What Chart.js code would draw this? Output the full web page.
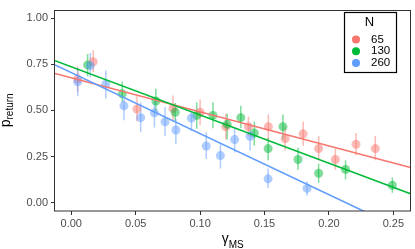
<!DOCTYPE html>
<html>
<head>
<meta charset="utf-8">
<script src="https://cdn.jsdelivr.net/npm/chart.js@4/dist/chart.umd.min.js"></script>
<style>
  html, body { margin: 0; padding: 0; background: #fff; }
  #wrap { width: 415px; height: 249px; }
</style>
</head>
<body>
<div id="wrap"><canvas id="chart" width="415" height="249"></canvas></div>
<script>
// data
const xTicks = [0, 0.05, 0.10, 0.15, 0.20, 0.25];
const yTicks = [0, 0.25, 0.50, 0.75, 1.00];
const groups = ["65", "130", "260"];
const colors = ["#F8766D", "#00BA38", "#619CFF"];

const x65  = [0.005, 0.017, 0.051, 0.079, 0.100, 0.120, 0.1375, 0.153, 0.166, 0.180, 0.192, 0.205, 0.221, 0.236];
const y65  = [0.670, 0.764, 0.508, 0.511, 0.490, 0.412, 0.412, 0.412, 0.347, 0.373, 0.293, 0.234, 0.316, 0.293];
const lo65 = [0.600, 0.707, 0.441, 0.447, 0.420, 0.342, 0.361, 0.342, 0.283, 0.309, 0.230, 0.178, 0.257, 0.230];
const hi65 = [0.740, 0.827, 0.577, 0.581, 0.560, 0.482, 0.466, 0.478, 0.414, 0.440, 0.361, 0.293, 0.377, 0.361];

const x130  = [0.0127, 0.0396, 0.0657, 0.0807, 0.0974, 0.110, 0.121, 0.1316, 0.1421, 0.1528, 0.1643, 0.176, 0.192, 0.2129, 0.2492];
const y130  = [0.747, 0.590, 0.551, 0.490, 0.473, 0.473, 0.425, 0.461, 0.377, 0.293, 0.412, 0.234, 0.159, 0.180, 0.094];
const lo130 = [0.686, 0.545, 0.492, 0.440, 0.401, 0.403, 0.342, 0.403, 0.309, 0.230, 0.342, 0.178, 0.106, 0.126, 0.054];
const hi130 = [0.806, 0.656, 0.618, 0.540, 0.545, 0.545, 0.482, 0.525, 0.440, 0.351, 0.478, 0.298, 0.211, 0.230, 0.136];

const x260  = [0.005, 0.0148, 0.0268, 0.0409, 0.0539, 0.0646, 0.0728, 0.0812, 0.0933, 0.1048, 0.1158, 0.1268, 0.1388, 0.1528, 0.183];
const y260  = [0.655, 0.743, 0.642, 0.525, 0.461, 0.487, 0.438, 0.394, 0.459, 0.307, 0.255, 0.342, 0.360, 0.129, 0.077];
const lo260 = [0.577, 0.681, 0.565, 0.447, 0.382, 0.408, 0.361, 0.316, 0.387, 0.237, 0.185, 0.272, 0.283, 0.079, 0.037];
const hi260 = [0.728, 0.812, 0.717, 0.565, 0.545, 0.551, 0.518, 0.455, 0.499, 0.382, 0.316, 0.403, 0.429, 0.185, 0.115];

// linear fits per group
const fitIntercept = [0.677, 0.737, 0.705];
const fitSlope = [-1.849, -2.614, -3.31];

const xMin = -0.0126, xMax = 0.2633;
const yMin = -0.0455, yMax = 1.047;

const FONT = "'Liberation Sans', Arial, sans-serif";

const series = [
    { x: x65, y: y65, lo: lo65, hi: hi65 },
    { x: x130, y: y130, lo: lo130, hi: hi130 },
    { x: x260, y: y260, lo: lo260, hi: hi260 }
];

function alpha(hex, a) {
    const n = parseInt(hex.slice(1), 16);
    return `rgba(${n >> 16},${(n >> 8) & 255},${n & 255},${a})`;
}

const datasets = [];
series.forEach((s, i) => {
    datasets.push({
        type: 'scatter',
        label: groups[i],
        data: s.x.map((v, k) => ({ x: v, y: s.y[k] })),
        backgroundColor: alpha(colors[i], 0.5),
        borderWidth: 0,
        pointRadius: 4.5,
        order: 10 - i
    });
});
series.forEach((s, i) => {
    datasets.push({
        type: 'line',
        label: 'fit ' + groups[i],
        data: [xMin, xMax].map(v => ({ x: v, y: fitIntercept[i] + fitSlope[i] * v })),
        borderColor: colors[i],
        borderWidth: 1.6,
        pointRadius: 0,
        fill: false,
        order: 3 - i
    });
});

// error bars drawn under the points
const errorBars = {
    id: 'errorBars',
    beforeDatasetsDraw(chart) {
        const { ctx, chartArea, scales } = chart;
        ctx.save();
        ctx.beginPath();
        ctx.rect(chartArea.left, chartArea.top, chartArea.right - chartArea.left, chartArea.bottom - chartArea.top);
        ctx.clip();
        ctx.lineWidth = 1.5;
        series.forEach((s, i) => {
            ctx.strokeStyle = alpha(colors[i], 0.5);
            s.x.forEach((v, k) => {
                const px = scales.x.getPixelForValue(v);
                ctx.beginPath();
                ctx.moveTo(px, scales.y.getPixelForValue(s.lo[k]));
                ctx.lineTo(px, scales.y.getPixelForValue(s.hi[k]));
                ctx.stroke();
            });
        });
        ctx.restore();
    }
};

// panel border, axis titles with subscripts, legend box
const decorations = {
    id: 'decorations',
    afterDraw(chart) {
        const { ctx, chartArea: a } = chart;
        ctx.save();
        ctx.strokeStyle = '#333333';
        ctx.lineWidth = 1;
        ctx.strokeRect(Math.round(a.left) - 0.5, Math.round(a.top) + 0.5, Math.round(a.right - a.left), Math.round(a.bottom - a.top) - 0.5);

        // x title: gamma_MS
        ctx.fillStyle = '#000';
        ctx.textBaseline = 'alphabetic';
        ctx.font = `14px ${FONT}`;
        const g = 'γ', sub = 'MS';
        const gw = ctx.measureText(g).width;
        ctx.font = `10px ${FONT}`;
        const sw = ctx.measureText(sub).width;
        const cx = (a.left + a.right) / 2;
        let x0 = cx - (gw + sw) / 2;
        ctx.font = `14px ${FONT}`;
        ctx.fillText(g, x0, 243);
        ctx.font = `10px ${FONT}`;
        ctx.fillText(sub, x0 + gw, 247.5);

        // y title: p_return, rotated
        ctx.save();
        const cy = (a.top + a.bottom) / 2;
        ctx.translate(10, cy);
        ctx.rotate(-Math.PI / 2);
        ctx.font = `14px ${FONT}`;
        const pw = ctx.measureText('p').width;
        ctx.font = `10px ${FONT}`;
        const rw = ctx.measureText('return').width;
        const t0 = -(pw + rw) / 2;
        ctx.font = `14px ${FONT}`;
        ctx.fillText('p', t0, 0);
        ctx.font = `10px ${FONT}`;
        ctx.fillText('return', t0 + pw, 3);
        ctx.restore();

        // legend
        const lx = 344, ly = 12, lw = 52, lh = 60;
        ctx.fillStyle = '#fff';
        ctx.fillRect(lx, ly, lw, lh);
        ctx.lineWidth = 1.2;
        ctx.strokeStyle = '#000';
        ctx.strokeRect(lx + 0.5, ly + 0.5, lw, lh);
        ctx.fillStyle = '#000';
        ctx.textBaseline = 'middle';
        ctx.textAlign = 'center';
        ctx.font = `13px ${FONT}`;
        ctx.fillText('N', lx + 25.5, ly + 10.5);
        ctx.textAlign = 'left';
        ctx.font = `11.5px ${FONT}`;
        groups.forEach((lab, i) => {
            const yy = ly + 27.5 + i * 11.8;
            ctx.fillStyle = colors[i];
            ctx.beginPath();
            ctx.arc(lx + 12, yy, 4, 0, Math.PI * 2);
            ctx.fill();
            ctx.fillStyle = '#000';
            ctx.fillText(lab, lx + 27, yy);
        });
        ctx.restore();
    }
};

new Chart(document.getElementById('chart'), {
    data: { datasets: datasets },
    options: {
        responsive: false,
        animation: false,
        events: [],
        layout: { padding: { left: 0, top: 2, right: 1, bottom: 0 } },
        plugins: { legend: { display: false }, tooltip: { enabled: false } },
        scales: {
            x: {
                type: 'linear',
                min: xMin,
                max: xMax,
                afterBuildTicks: s => { s.ticks = xTicks.map(v => ({ value: v })); },
                afterFit: s => { s.height = 38; },
                ticks: {
                    callback: v => v.toFixed(2),
                    color: '#4D4D4D',
                    font: { family: FONT, size: 11 },
                    padding: 2,
                    maxRotation: 0,
                    autoSkip: false
                },
                grid: { drawOnChartArea: false, drawTicks: true, tickLength: 4, color: '#333333' },
                border: { display: false }
            },
            y: {
                type: 'linear',
                min: yMin,
                max: yMax,
                afterBuildTicks: s => { s.ticks = yTicks.map(v => ({ value: v })); },
                afterFit: s => { s.width = 55; },
                ticks: {
                    callback: v => v.toFixed(2),
                    color: '#4D4D4D',
                    font: { family: FONT, size: 11 },
                    padding: 3,
                    autoSkip: false
                },
                grid: { drawOnChartArea: false, drawTicks: true, tickLength: 4, color: '#333333' },
                border: { display: false }
            }
        }
    },
    plugins: [errorBars, decorations]
});
</script>
</body>
</html>
